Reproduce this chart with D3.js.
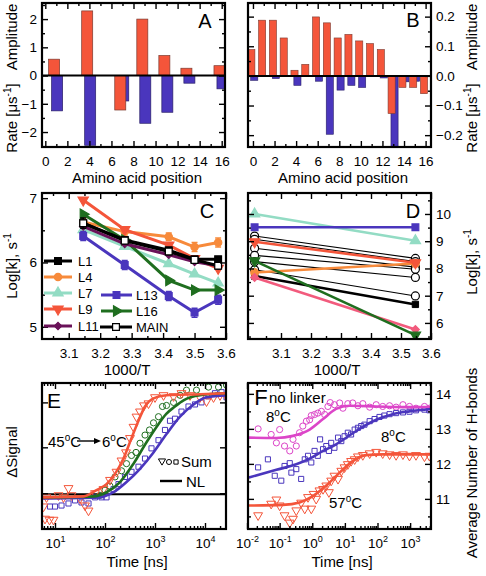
<!DOCTYPE html>
<html><head><meta charset="utf-8">
<script src="https://cdn.jsdelivr.net/npm/d3@7"></script>
<style>body{margin:0;background:#fff}svg{display:block}</style>
</head><body><svg id="c" width="486" height="576"></svg>
<script>
// ================= DATA =================
// Panel A
const aaPosA = [1, 4, 7, 9, 11, 13, 16];
const ampA   = [0.58, 2.29, -1.22, 2.00, 0.71, 0.26, 0.35];
const rateA  = [-1.25, -2.47, -0.90, -1.69, -1.30, -0.27, -0.47];
// Panel B
const aaPosB = [0,1,2,3,4,5,6,7,8,9,10,11,12,13,14,15,16];
const ampB   = [0.089,0.188,0.188,0.128,0.019,0.039,0.199,0.179,0.128,0.140,0.118,0.109,0.089,-0.127,-0.039,-0.039,-0.060];
const rateB  = [-0.015,0,-0.009,0,-0.032,0,-0.018,-0.197,-0.048,-0.032,-0.039,0,-0.007,-0.27,-0.020,-0.018,0];
// Panel C (1000/T vs log k)
const invTC = [3.146, 3.278, 3.418, 3.500, 3.575];
const cL1   = [6.61, 6.35, 6.19, 6.05, 6.05];
const cL4   = [6.63, 6.48, 6.40, 6.24, 6.31];
const cL7   = [6.51, 6.25, 5.98, 5.82, 5.68];
const cL9   = [6.97, 6.51, 6.27, 6.06, 5.91];
const cL11  = [6.56, 6.29, 6.12, 6.01, 5.95];
const cL13  = [6.41, 5.96, 5.48, 5.22, 5.42];
const cL16  = [6.75, 6.35, 5.72, 5.57, 5.57];
const cMAIN = [6.61, 6.34, 6.17, 6.04, 5.95];
const errL4   = [0.06, 0.07, 0.06, 0.07, 0.07];
const errL13  = [0.07, 0.07, 0.07, 0.07, 0.07];
const errMAIN = [0.08, 0.05, 0.05, 0.05, 0.05];
// Panel D
const invTD  = [3.012, 3.548];
const dBlack = [[9.19,8.37],[9.07,8.25],[8.74,8.05],[8.48,7.97],[8.25,7.67],[7.95,6.99]];
const dBlackThick = [7.72, 6.68];
const dTeal   = [10.0, 9.02];
const dBlue   = [9.51, 9.51];
const dRed    = [8.98, 8.21];
const dOrange = [7.85, 8.18];
const dGreen  = [8.28, 5.55];
const dPink   = [7.67, 5.76];
// Panel E  ([log10 time(ns), normalized signal])
const eRedSum = [[0.77,-0.09],[0.80,-0.21],[0.89,-0.22],[0.97,-0.22],[0.83,0.0],[1.07,0.02],[1.17,0.0],[1.27,0.09],[1.33,0.02],[1.5,-0.01],[1.6,-0.08],[1.67,-0.13],[1.8,0.04],[1.97,0.08],[2.1,0.17],[2.23,0.25],[2.33,0.36],[2.42,0.44],[2.5,0.58],[2.57,0.69],[2.63,0.79],[2.7,0.84],[2.78,0.9],[2.87,0.92],[3.0,0.98],[3.17,1.0],[3.37,0.99],[3.53,1.02],[3.7,1.0],[3.9,0.98],[4.03,0.94],[4.17,0.98],[4.3,1.0],[4.43,0.99]];
const eRedNL = [[0.7,0.0],[1.57,0.01],[1.83,0.07],[2.03,0.13],[2.2,0.23],[2.37,0.38],[2.53,0.58],[2.67,0.75],[2.8,0.89],[2.97,0.97],[3.23,1.0],[3.9,1.01],[4.45,1.02]];
const eGreenSum = [[1.9,0.02],[2.0,0.07],[2.1,0.11],[2.2,0.2],[2.33,0.26],[2.43,0.33],[2.53,0.41],[2.62,0.44],[2.7,0.53],[2.8,0.61],[2.89,0.66],[2.97,0.73],[3.07,0.79],[3.15,0.89],[3.23,0.9],[3.37,0.93],[3.5,1.0],[3.63,1.05],[3.83,1.05],[4.07,1.08],[4.27,1.08],[4.43,1.1]];
const eGreenNL = [[0.7,0.0],[1.77,0.01],[2.03,0.05],[2.3,0.15],[2.57,0.33],[2.83,0.54],[3.03,0.69],[3.23,0.82],[3.4,0.89],[3.57,0.95],[3.9,1.0],[4.45,1.02]];
const eBlueSum = [[0.9,-0.09],[1.0,-0.09],[1.13,-0.08],[1.27,-0.06],[1.4,-0.03],[1.53,-0.05],[1.67,-0.06],[1.8,0.0],[1.93,0.0],[2.03,0.0],[2.17,0.08],[2.27,0.13],[2.4,0.2],[2.53,0.25],[2.67,0.3],[2.8,0.38],[2.93,0.48],[3.07,0.56],[3.2,0.66],[3.3,0.75],[3.4,0.77],[3.53,0.84],[3.67,0.89],[3.8,0.91],[3.93,0.93],[4.07,0.99],[4.2,1.02],[4.33,1.03],[4.43,0.98]];
const eBlueNL = [[0.7,-0.01],[1.9,0.0],[2.17,0.05],[2.43,0.15],[2.7,0.28],[2.97,0.44],[3.23,0.62],[3.5,0.79],[3.77,0.91],[4.03,0.98],[4.45,1.0]];
const eBaseline = 0.03;
// Panel F  ([log10 time(ns), average number of H-bonds])
const fMagSum = [[-1.66,13.0],[-1.26,12.84],[-1.1,12.6],[-1.0,12.98],[-0.85,12.51],[-0.69,12.37],[-0.59,12.7],[-0.49,12.51],[-0.39,12.89],[-0.29,13.08],[-0.18,13.22],[-0.08,13.26],[-0.03,13.38],[0.07,13.41],[0.17,13.45],[0.28,13.5],[0.38,13.41],[0.48,13.64],[0.55,13.75],[0.68,13.69],[0.84,13.74],[0.94,13.59],[1.09,13.72],[1.24,13.74],[1.4,13.66],[1.55,13.72],[1.76,13.62],[1.96,13.69],[2.16,13.64],[2.37,13.66],[2.57,13.62],[2.78,13.69],[2.98,13.64],[3.18,13.59],[3.44,13.64],[3.59,13.59]];
const fMagNL = [[-1.95,12.75],[-1.1,12.74],[-0.59,12.8],[-0.08,12.98],[0.33,13.28],[0.73,13.57],[1.14,13.66],[1.96,13.64],[2.98,13.62],[3.66,13.62]];
const fBlueSum = [[-1.66,11.9],[-1.36,12.13],[-1.15,11.66],[-0.95,11.52],[-0.85,11.94],[-0.69,12.02],[-0.64,11.75],[-0.49,11.85],[-0.34,11.57],[-0.23,12.13],[-0.13,12.23],[-0.03,12.04],[0.07,12.37],[0.17,12.23],[0.24,12.7],[0.33,12.42],[0.43,12.51],[0.51,12.37],[0.58,12.6],[0.68,12.46],[0.79,12.75],[0.89,12.65],[0.99,12.79],[1.09,12.89],[1.19,12.84],[1.3,12.98],[1.4,13.03],[1.5,13.08],[1.6,13.12],[1.76,13.22],[1.91,13.28],[2.06,13.34],[2.21,13.38],[2.37,13.42],[2.57,13.45],[2.78,13.47],[2.98,13.49],[3.18,13.53],[3.44,13.55],[3.59,13.53]];
const fBlueNL = [[-1.95,11.61],[-1.1,11.83],[-0.49,11.99],[-0.08,12.15],[0.33,12.37],[0.73,12.56],[1.14,12.81],[1.55,13.06],[1.96,13.26],[2.47,13.42],[2.98,13.5],[3.66,13.57]];
const fRedSum = [[-1.66,10.53],[-1.26,10.86],[-1.1,10.98],[-1.0,10.81],[-0.85,10.53],[-0.69,10.32],[-0.59,10.43],[-0.49,10.67],[-0.34,10.89],[-0.23,10.72],[-0.13,11.05],[-0.03,10.72],[0.04,11.14],[0.12,11.0],[0.22,11.24],[0.33,11.28],[0.43,11.38],[0.51,11.19],[0.58,11.52],[0.68,11.66],[0.79,11.57],[0.89,11.8],[0.99,11.9],[1.09,11.99],[1.19,12.08],[1.3,12.13],[1.4,12.21],[1.55,12.25],[1.76,12.3],[1.96,12.34],[2.16,12.3],[2.37,12.27],[2.57,12.25],[2.78,12.27],[2.98,12.23],[3.18,12.25],[3.44,12.21],[3.59,12.23]];
const fRedNL = [[-1.95,10.81],[-0.9,10.83],[-0.39,10.9],[0.02,11.08],[0.43,11.38],[0.84,11.75],[1.24,12.08],[1.65,12.25],[2.16,12.27],[3.66,12.27]];
// Tick values
const ticksA_x = [0,2,4,6,8,10,12,14,16];
const ticksA_xm = [1,3,5,7,9,11,13,15];
const ticksA_y = [-2,-1,0,1,2];
const ticksA_ym = [-2.5,-1.5,-0.5,0.5,1.5,2.5];
const ticksB_y = [-0.2,-0.1,0.0,0.1,0.2];
const ticksB_ym = [-0.15,-0.05,0.05,0.15];
const ticksC_x = [3.1,3.2,3.3,3.4,3.5,3.6];
const ticksC_xm = [3.05,3.15,3.25,3.35,3.45,3.55];
const ticksC_y = [5,6,7];
const ticksC_ym = [5.5,6.5];
const ticksD_y = [6,7,8,9,10];
const ticksD_ym = [5.5,6.5,7.5,8.5,9.5,10.5];
const ticksE_x = [1e1,1e2,1e3,1e4];
const ticksE_y = [0.04,0.49,0.93];
const ticksF_x = [1e-2,1e-1,1e0,1e1,1e2,1e3];
const ticksF_y = [11,12,13,14];
const ticksF_ym = [10.5,11.5,12.5,13.5];

// ================= DRAWING =================
const FONT = '"Liberation Sans", Arial, Helvetica, sans-serif';
const TFS = 13.5; // tick label size
const RED = "#f4553a", BLUE = "#4a36bd", GREEN = "#1f6e1f", ORANGE = "#f78a3b",
      TEAL = "#93dcc4", PURPLE = "#6a1259", MAGENTA = "#dc45c8", PINK = "#f25b7d";
const svg = d3.select("#c").attr("font-family", FONT);
const defs = svg.append("defs");
let clipId = 0;

function rich(t, parts, fs){
  let shift = 0;
  parts.forEach(p=>{
    const sup = typeof p !== "string";
    const s = t.append("tspan").text(sup ? p.sup : p);
    if (sup){ s.attr("font-size", Math.round(fs*0.66)).attr("dy", -fs*0.42); shift = fs*0.42; }
    else if (shift){ s.attr("dy", shift); shift = 0; }
  });
  return t;
}
function label(g, x, y, parts, fs, opts={}){
  const t = g.append("text").attr("font-size", fs).attr("fill","#000")
    .attr("text-anchor", opts.anchor || "start");
  if (opts.rot) t.attr("transform", `translate(${x},${y}) rotate(${opts.rot})`);
  else t.attr("x", x).attr("y", y);
  return rich(t, parts, fs);
}

function frame(g, x, y, o){
  const [L,R] = x.range(), [B,T] = y.range();
  const none = ()=> "";
  const add = (tr, ax)=>{
    const a = g.append("g").attr("transform", tr).call(ax);
    a.select(".domain").remove();
    a.attr("font-family", FONT).attr("font-size", TFS);
    a.selectAll("line").attr("stroke","#000").attr("stroke-width",1.4);
    a.selectAll(".tick text").filter(function(){ return !this.textContent; }).remove();
    a.selectAll("text").attr("fill","#000");
    return a;
  };
  const mk = (fn, sc, vals, size, fmt, pad)=> fn(sc).tickValues(vals).tickSizeInner(-size).tickSizeOuter(0).tickPadding(pad||0).tickFormat(fmt||none);
  const res = {};
  res.bottom = add(`translate(0,${B})`, mk(d3.axisBottom, x, o.xMajor, 6, o.xFmt, o.xPad || 9));
  add(`translate(0,${T})`, mk(d3.axisTop, x, o.xMajor, 6));
  if (o.xMinor){
    add(`translate(0,${B})`, mk(d3.axisBottom, x, o.xMinor, 3));
    add(`translate(0,${T})`, mk(d3.axisTop, x, o.xMinor, 3));
  }
  res.left = add(`translate(${L},0)`, mk(d3.axisLeft, y, o.yMajor, 6, o.ySide==="left" ? o.yFmt : null, 5));
  res.right = add(`translate(${R},0)`, mk(d3.axisRight, y, o.yMajor, 6, o.ySide==="right" ? o.yFmt : null, 5));
  if (o.yMinor){
    add(`translate(${L},0)`, mk(d3.axisLeft, y, o.yMinor, 3));
    add(`translate(${R},0)`, mk(d3.axisRight, y, o.yMinor, 3));
  }
  g.append("rect").attr("x",L).attr("y",T).attr("width",R-L).attr("height",B-T)
    .attr("fill","none").attr("stroke","#000").attr("stroke-width",2.2);
  return res;
}
function clipFor(x, y){
  const id = "clip"+(clipId++);
  const [L,R] = x.range(), [B,T] = y.range();
  defs.append("clipPath").attr("id", id).append("rect").attr("x",L).attr("y",T).attr("width",R-L).attr("height",B-T);
  return `url(#${id})`;
}
const SHAPES = {
  sq:[d3.symbolSquare,0], ci:[d3.symbolCircle,0], tu:[d3.symbolTriangle,0],
  td:[d3.symbolTriangle,180], tr:[d3.symbolTriangle,90], di:[d3.symbolSquare,45]
};
function markers(g, pts, shape, size, fill, stroke, sw){
  const [type, rot] = SHAPES[shape];
  const p = d3.symbol().type(type).size(size)();
  g.selectAll(null).data(pts).join("path").attr("d", p)
    .attr("transform", d=>`translate(${d[0]},${d[1]}) rotate(${rot})`)
    .attr("fill", fill).attr("stroke", stroke).attr("stroke-width", sw || 1);
}
function logFmt(axisSel){
  axisSel.selectAll(".tick text").each(function(d){
    const t = d3.select(this); t.text(null);
    rich(t, ["10", {sup: String(Math.round(Math.log10(d)))}], TFS);
  });
}

// ---------- Panel A ----------
{
  const g = svg.append("g");
  const x = d3.scaleLinear().domain([-0.3,16.3]).range([42,225]);
  const y = d3.scaleLinear().domain([-2.53,2.57]).range([147,3]);
  const bw = x(1) - x(0);
  const gc = g.append("g").attr("clip-path", clipFor(x,y));
  gc.selectAll(null).data(aaPosA.map((p,i)=>[p, rateA[i]])).join("rect")
    .attr("x", d=>x(d[0]+0.07)-bw/2).attr("width", bw)
    .attr("y", d=>y(Math.max(0,d[1]))).attr("height", d=>Math.abs(y(d[1])-y(0)))
    .attr("fill", BLUE).attr("stroke","#2a2068").attr("stroke-width",0.7);
  gc.selectAll(null).data(aaPosA.map((p,i)=>[p, ampA[i]])).join("rect")
    .attr("x", d=>x(d[0]-0.2)-bw/2).attr("width", bw)
    .attr("y", d=>y(Math.max(0,d[1]))).attr("height", d=>Math.abs(y(d[1])-y(0)))
    .attr("fill", RED).attr("stroke","#7a3a30").attr("stroke-width",0.7);
  g.append("line").attr("x1",x.range()[0]).attr("x2",x.range()[1]).attr("y1",y(0)).attr("y2",y(0))
    .attr("stroke","#000").attr("stroke-width",2);
  frame(g, x, y, {xMajor:ticksA_x, xMinor:ticksA_xm, xFmt:d3.format("d"), yMajor:ticksA_y, yMinor:ticksA_ym, ySide:"left", yFmt:d3.format("d")});
  label(g, 205, 28, ["A"], 20, {anchor:"middle"});
  label(g, 17, 37, ["Amplitude"], 15, {anchor:"middle", rot:-90});
  label(g, 17, 118, ["Rate [μs", {sup:"-1"}, "]"], 15, {anchor:"middle", rot:-90});
  label(g, 137, 183, ["Amino acid position"], 15, {anchor:"middle"});
}
// ---------- Panel B ----------
{
  const g = svg.append("g");
  const x = d3.scaleLinear().domain([-0.46,16.5]).range([248,431]);
  const y = d3.scaleLinear().domain([-0.24,0.246]).range([147,3]);
  const bw = (x(1) - x(0))*0.66;
  const gc = g.append("g").attr("clip-path", clipFor(x,y));
  gc.selectAll(null).data(aaPosB.map((p,i)=>[p, rateB[i]])).join("rect")
    .attr("x", d=>x(d[0]+0.12)-bw/2).attr("width", bw)
    .attr("y", d=>y(Math.max(0,d[1]))).attr("height", d=>Math.abs(y(d[1])-y(0)))
    .attr("fill", BLUE).attr("stroke","#2a2068").attr("stroke-width",0.6);
  gc.selectAll(null).data(aaPosB.map((p,i)=>[p, ampB[i]])).join("rect")
    .attr("x", d=>x(d[0]-0.15)-bw/2).attr("width", bw)
    .attr("y", d=>y(Math.max(0,d[1]))).attr("height", d=>Math.abs(y(d[1])-y(0)))
    .attr("fill", RED).attr("stroke","#7a3a30").attr("stroke-width",0.6);
  g.append("line").attr("x1",x.range()[0]).attr("x2",x.range()[1]).attr("y1",y(0)).attr("y2",y(0))
    .attr("stroke","#000").attr("stroke-width",2);
  frame(g, x, y, {xMajor:ticksA_x, xMinor:ticksA_xm, xFmt:d3.format("d"), yMajor:ticksB_y, yMinor:ticksB_ym, ySide:"right", yFmt:d3.format(".1f")});
  label(g, 413, 27, ["B"], 20, {anchor:"middle"});
  label(g, 477, 37, ["Amplitude"], 15, {anchor:"middle", rot:-90});
  label(g, 477, 118, ["Rate [μs", {sup:"-1"}, "]"], 15, {anchor:"middle", rot:-90});
  label(g, 343, 183, ["Amino acid position"], 15, {anchor:"middle"});
}
// ---------- Panel C ----------
{
  const g = svg.append("g");
  const x = d3.scaleLinear().domain([3.015,3.6]).range([42,226]);
  const y = d3.scaleLinear().domain([4.81,7.08]).range([339,193]);
  const gc = g.append("g").attr("clip-path", clipFor(x,y));
  const series = [
    {v:cL4, c:ORANGE, s:"ci", e:errL4},
    {v:cL9, c:RED, s:"td"},
    {v:cL7, c:TEAL, s:"tu"},
    {v:cL13, c:BLUE, s:"sq", e:errL13},
    {v:cL16, c:GREEN, s:"tr"},
    {v:cL11, c:PURPLE, s:"di"},
    {v:cL1, c:"#000", s:"sq"},
    {v:cMAIN, c:"#000", s:"sq", fill:"#fff", e:errMAIN}
  ];
  const line = d3.line();
  series.forEach(sr=>{
    const pts = invTC.map((t,i)=>[x(t), y(sr.v[i])]);
    gc.append("path").attr("d", line(pts)).attr("fill","none").attr("stroke", sr.c).attr("stroke-width",3);
    if (sr.e){
      invTC.forEach((t,i)=>{
        const xx = x(t), y1 = y(sr.v[i]-sr.e[i]), y2 = y(sr.v[i]+sr.e[i]);
        gc.append("path").attr("d",`M${xx},${y1}V${y2}M${xx-3},${y1}H${xx+3}M${xx-3},${y2}H${xx+3}`)
          .attr("stroke", sr.c).attr("stroke-width",1.5).attr("fill","none");
      });
    }
    markers(gc, pts, sr.s, sr.s==="di"?28:(sr.s==="ci"?42:46), sr.fill || sr.c, sr.c, 1.2);
  });
  frame(g, x, y, {xMajor:ticksC_x, xMinor:ticksC_xm, xFmt:d3.format(".1f"), yMajor:ticksC_y, yMinor:ticksC_ym, ySide:"left", yFmt:d3.format("d")});
  // legend
  const leg = [
    {n:"L1", c:"#000", s:"sq", lx:[44,72], ly:261, tx:78},
    {n:"L4", c:ORANGE, s:"ci", lx:[44,72], ly:277, tx:78},
    {n:"L7", c:TEAL, s:"tu", lx:[44,72], ly:293, tx:78},
    {n:"L9", c:RED, s:"td", lx:[44,72], ly:309, tx:78},
    {n:"L11", c:PURPLE, s:"di", lx:[44,72], ly:326, tx:78},
    {n:"L13", c:BLUE, s:"sq", lx:[101,132], ly:295, tx:136},
    {n:"L16", c:GREEN, s:"tr", lx:[101,132], ly:311, tx:136},
    {n:"MAIN", c:"#000", s:"sq", lx:[100,132], ly:327, tx:136, fill:"#fff"}
  ];
  leg.forEach(l=>{
    g.append("line").attr("x1",l.lx[0]).attr("x2",l.lx[1]).attr("y1",l.ly).attr("y2",l.ly).attr("stroke",l.c).attr("stroke-width",3);
    markers(g, [[(l.lx[0]+l.lx[1])/2, l.ly]], l.s, l.s==="di"?28:(l.s==="ci"?42:46), l.fill||l.c, l.c, 1.2);
    label(g, l.tx, l.ly+5, [l.n], 13);
  });
  label(g, 207, 218, ["C"], 20, {anchor:"middle"});
  label(g, 17, 266, ["Log[k], s", {sup:"-1"}], 15, {anchor:"middle", rot:-90});
  label(g, 127, 375, ["1000/T"], 15, {anchor:"middle"});
}
// ---------- Panel D ----------
{
  const g = svg.append("g");
  const x = d3.scaleLinear().domain([2.99,3.6]).range([248,431]);
  const y = d3.scaleLinear().domain([5.41,10.77]).range([339,193]);
  const gc = g.append("g").attr("clip-path", clipFor(x,y));
  const line = d3.line();
  dBlack.forEach(v=>{
    const pts = invTD.map((t,i)=>[x(t), y(v[i])]);
    gc.append("path").attr("d", line(pts)).attr("stroke","#000").attr("stroke-width",1.1).attr("fill","none");
  });
  const thick = invTD.map((t,i)=>[x(t), y(dBlackThick[i])]);
  gc.append("path").attr("d", line(thick)).attr("stroke","#000").attr("stroke-width",2.6).attr("fill","none");
  dBlack.forEach(v=> markers(gc, invTD.map((t,i)=>[x(t), y(v[i])]), "ci", 50, "#fff", "#000", 1.2));
  markers(gc, thick, "sq", 40, "#000", "#000", 1);
  const cols = [
    {v:dOrange, c:ORANGE, s:"ci"}, {v:dPink, c:PINK, s:"di"}, {v:dGreen, c:GREEN, s:"td"},
    {v:dRed, c:RED, s:"td"}, {v:dTeal, c:TEAL, s:"tu"}, {v:dBlue, c:BLUE, s:"sq"}
  ];
  cols.forEach(sr=>{
    const pts = invTD.map((t,i)=>[x(t), y(sr.v[i])]);
    gc.append("path").attr("d", line(pts)).attr("stroke", sr.c).attr("stroke-width",2.6).attr("fill","none");
    markers(gc, pts, sr.s, sr.s==="di"?30:46, sr.c, sr.c, 1.2);
  });
  frame(g, x, y, {xMajor:ticksC_x, xMinor:ticksC_xm, xFmt:d3.format(".1f"), yMajor:ticksD_y, yMinor:ticksD_ym, ySide:"right", yFmt:d3.format("d")});
  label(g, 413, 218, ["D"], 20, {anchor:"middle"});
  label(g, 477, 262, ["Log[k], s", {sup:"-1"}], 15, {anchor:"middle", rot:-90});
  label(g, 337, 375, ["1000/T"], 15, {anchor:"middle"});
}
// ---------- Panel E ----------
{
  const g = svg.append("g");
  const x = d3.scaleLog().domain([Math.pow(10,0.74), Math.pow(10,4.42)]).range([42,226]);
  const y = d3.scaleLinear().domain([-0.31,1.12]).range([529,383]);
  const gc = g.append("g").attr("clip-path", clipFor(x,y));
  const P = d=>[x(Math.pow(10,d[0])), y(d[1])];
  gc.append("line").attr("x1",x.range()[0]).attr("x2",x.range()[1]).attr("y1",y(eBaseline)).attr("y2",y(eBaseline)).attr("stroke","#000").attr("stroke-width",2);
  const line = d3.line().curve(d3.curveMonotoneX);
  markers(gc, eBlueSum.map(P), "sq", 26, "none", BLUE, 1);
  markers(gc, eGreenSum.map(P), "ci", 30, "none", GREEN, 1);
  markers(gc, eRedSum.map(P), "td", 34, "none", RED, 1);
  [[eBlueNL,BLUE],[eGreenNL,GREEN],[eRedNL,RED]].forEach(([d,c])=>{
    gc.append("path").attr("d", line(d.map(P))).attr("fill","none").attr("stroke",c).attr("stroke-width",2.6);
  });
  const minor = [];
  [1,10,100,1000,10000].forEach(b=>[2,3,4,5,6,7,8,9].forEach(m=>{const v=b*m; if(v>=x.domain()[0]&&v<=x.domain()[1]) minor.push(v);}));
  const ax = frame(g, x, y, {xMajor:ticksE_x, xMinor:minor, yMajor:ticksE_y, ySide:"none", xFmt:d3.format("d"), xPad:9});
  logFmt(ax.bottom);
  label(g, 54, 408, ["E"], 21, {anchor:"middle"});
  label(g, 48, 447, ["45", {sup:"o"}, "C"], 15);
  g.append("line").attr("x1",77).attr("x2",95).attr("y1",441).attr("y2",441).attr("stroke","#000").attr("stroke-width",1.4);
  g.append("path").attr("d","M101,441L94,438L94,444Z").attr("fill","#000");
  label(g, 102, 447, ["6", {sup:"o"}, "C"], 15);
  markers(g, [[162,461]], "td", 22, "none", "#000", 1);
  markers(g, [[169,462]], "ci", 20, "none", "#000", 1);
  markers(g, [[176,462]], "sq", 18, "none", "#000", 1);
  label(g, 181, 467, ["Sum"], 15);
  g.append("line").attr("x1",160).attr("x2",182).attr("y1",481).attr("y2",481).attr("stroke","#000").attr("stroke-width",2.4);
  label(g, 186, 487, ["NL"], 15);
  label(g, 17, 452, ["ΔSignal"], 15, {anchor:"middle", rot:-90});
  label(g, 137, 567, ["Time [ns]"], 15, {anchor:"middle"});
}
// ---------- Panel F ----------
{
  const g = svg.append("g");
  const x = d3.scaleLog().domain([Math.pow(10,-1.97), Math.pow(10,3.64)]).range([248,431]);
  const y = d3.scaleLinear().domain([10.14,14.31]).range([529,383]);
  const gc = g.append("g").attr("clip-path", clipFor(x,y));
  const P = d=>[x(Math.pow(10,d[0])), y(d[1])];
  const line = d3.line().curve(d3.curveMonotoneX);
  markers(gc, fMagSum.map(P), "ci", 30, "none", MAGENTA, 1);
  markers(gc, fBlueSum.map(P), "sq", 26, "none", BLUE, 1);
  markers(gc, fRedSum.map(P), "td", 34, "none", RED, 1);
  [[fMagNL,MAGENTA],[fBlueNL,BLUE],[fRedNL,RED]].forEach(([d,c])=>{
    gc.append("path").attr("d", line(d.map(P))).attr("fill","none").attr("stroke",c).attr("stroke-width",2.6);
  });
  const minor = [];
  [0.01,0.1,1,10,100,1000].forEach(b=>[2,3,4,5,6,7,8,9].forEach(m=>{const v=b*m; if(v>=x.domain()[0]&&v<=x.domain()[1]) minor.push(v);}));
  const ax = frame(g, x, y, {xMajor:ticksF_x, xMinor:minor, yMajor:ticksF_y, yMinor:ticksF_ym, ySide:"right", yFmt:d3.format("d"), xFmt:d3.format("d"), xPad:9});
  logFmt(ax.bottom);
  label(g, 261, 405, ["F"], 22, {anchor:"middle"});
  label(g, 269, 403, ["no linker"], 15);
  label(g, 266, 422, ["8", {sup:"o"}, "C"], 15);
  label(g, 381, 442, ["8", {sup:"o"}, "C"], 15);
  label(g, 329, 508, ["57", {sup:"o"}, "C"], 15);
  label(g, 477, 463, ["Average Number of H-bonds"], 15, {anchor:"middle", rot:-90});
  label(g, 342, 567, ["Time [ns]"], 15, {anchor:"middle"});
}
</script></body></html>
